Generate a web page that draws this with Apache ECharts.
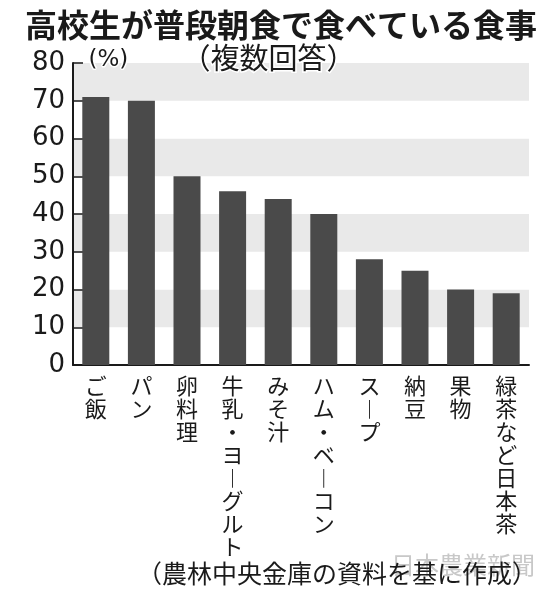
<!DOCTYPE html>
<html>
<head>
<meta charset="utf-8">
<script src="https://cdn.jsdelivr.net/npm/echarts@6/dist/echarts.min.js"></script>
<style>
  html, body { margin: 0; padding: 0; background: #fff; }
  #main { width: 541px; height: 593px; }
</style>
</head>
<body>
<div id="main"></div>
<script>
// 高校生が普段朝食で食べている食事（複数回答）
const categories = ['ご飯', 'パン', '卵料理', '牛乳・ヨーグルト', 'みそ汁', 'ハム・ベーコン', 'スープ', '納豆', '果物', '緑茶など日本茶']
const values = [71, 70, 50, 46, 44, 40, 28, 25, 20, 19]
const yTicks = [0, 10, 20, 30, 40, 50, 60, 70, 80]

const jp = '"Noto Sans CJK JP", sans-serif'

var myChart = echarts.init(document.getElementById('main'))

// 縦書きラベル：1文字ずつ改行、長音は縦棒に
function vertical(s) {
  return s.split('').map(c => c === 'ー' ? '︱' : c).join('\n')
}

var option = {
  animation: false,
  backgroundColor: '#fff',
  title: {
    text: '高校生が普段朝食で食べている食事',
    left: 20,
    top: 4,
    textStyle: {
      fontFamily: jp,
      fontSize: 32,
      fontWeight: 'bold',
      color: '#1a1a1a'
    }
  },
  grid: {
    left: 73,
    right: 12,
    top: 63,
    bottom: 228
  },
  xAxis: {
    type: 'category',
    data: categories,
    axisLine: { lineStyle: { color: '#1a1a1a', width: 2 } },
    axisTick: { show: false },
    axisLabel: {
      interval: 0,
      margin: 9,
      formatter: vertical,
      fontFamily: jp,
      fontSize: 22,
      lineHeight: 23,
      color: '#1a1a1a'
    }
  },
  yAxis: {
    type: 'value',
    min: yTicks[0],
    max: yTicks[yTicks.length - 1],
    interval: 10,
    axisLine: { show: true, lineStyle: { color: '#1a1a1a', width: 2 } },
    axisTick: { show: true, inside: true, length: 10, lineStyle: { color: '#1a1a1a', width: 1.5 } },
    axisLabel: {
      margin: 8,
      fontFamily: '"DejaVu Sans", sans-serif',
      fontSize: 26,
      color: '#1a1a1a'
    },
    splitLine: { show: false },
    splitArea: {
      show: true,
      areaStyle: { color: ['#ffffff', '#e9e9e9'] }
    }
  },
  series: [{
    type: 'bar',
    data: values,
    barWidth: 27,
    itemStyle: { color: '#4a4a4a' }
  }],
  graphic: [
    {
      type: 'text',
      z: 100,
      left: 87,
      top: 47,
      style: { text: '(%)', fontFamily: '"DejaVu Sans", sans-serif', fontSize: 23, fill: '#1a1a1a', stroke: '#fff', lineWidth: 3 }
    },
    {
      type: 'text',
      z: 100,
      left: 180,
      top: 42,
      style: { text: '（複数回答）', fontFamily: jp, fontSize: 29, fill: '#1a1a1a', stroke: '#fff', lineWidth: 3 }
    },
    {
      type: 'text',
      z: 100,
      right: 6,
      top: 553,
      style: { text: '日本農業新聞', fontFamily: jp, fontSize: 24, fill: '#c8c8c8' }
    },
    {
      type: 'text',
      z: 101,
      right: 4,
      top: 561,
      style: { text: '（農林中央金庫の資料を基に作成）', fontFamily: jp, fontSize: 25, fill: '#1a1a1a' }
    }
  ]
}

myChart.setOption(option)
</script>
</body>
</html>
